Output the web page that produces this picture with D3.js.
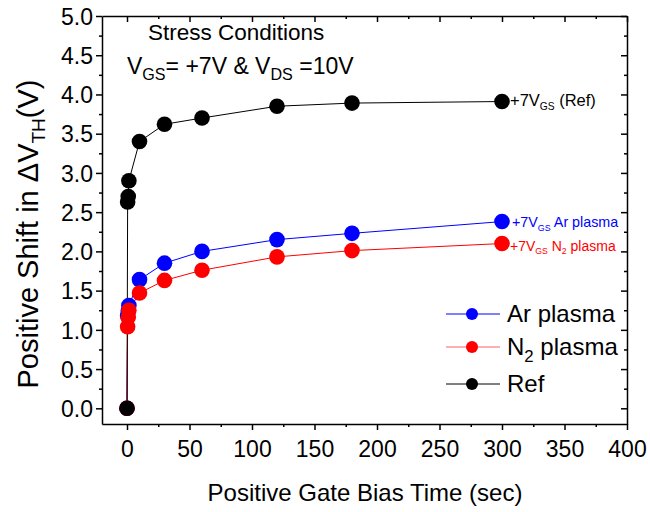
<!DOCTYPE html>
<html>
<head>
<meta charset="utf-8">
<script src="https://cdn.jsdelivr.net/npm/d3@7"></script>
<style>
  body { margin: 0; background: #fff; }
  svg { font-family: "Liberation Sans", Arial, sans-serif; }
</style>
</head>
<body>
<div id="chart"></div>
<script>
// data
const TIME_REF = [0, 0.5, 1, 1.5, 10, 30, 60, 120, 180, 300];
const SHIFT_REF = [0, 2.63, 2.70, 2.90, 3.40, 3.62, 3.70, 3.85, 3.89, 3.91];

const TIME_AR = [0, 0.5, 1, 1.5, 10, 30, 60, 120, 180, 300];
const SHIFT_AR = [0, 1.18, 1.24, 1.31, 1.64, 1.85, 2.00, 2.15, 2.23, 2.38];

const TIME_N2 = [0, 0.5, 1, 1.5, 10, 30, 60, 120, 180, 300];
const SHIFT_N2 = [0, 1.04, 1.16, 1.25, 1.47, 1.63, 1.76, 1.93, 2.01, 2.10];

const X_TICKS = [0, 50, 100, 150, 200, 250, 300, 350, 400];
const Y_TICKS = [0, 0.5, 1.0, 1.5, 2.0, 2.5, 3.0, 3.5, 4.0, 4.5, 5.0];

const W = 650, H = 512;
const PL = 102, PR = 627, PT = 16, PB = 424;

var svg = d3.select("#chart").append("svg")
    .attr("width", W).attr("height", H);

var x = d3.scaleLinear().domain([-20, 400]).range([PL, PR]);
var y = d3.scaleLinear().domain([-0.2, 5.0]).range([PB, PT]);

const minorX = d3.range(-25, 401, 25).filter(v => v >= -20 && v % 50 != 0);
const minorY = d3.range(0.25, 5.0, 0.5);

// axes: outward on left/bottom, inward on top/right
function addAxis(axisFn, scale, tr, ticks, size, labels) {
  var a = axisFn(scale).tickValues(ticks).tickSize(size).tickSizeOuter(0);
  if (labels) a.tickFormat(labels); else a.tickFormat("");
  var g = svg.append("g").attr("transform", tr).call(a);
  g.selectAll("path.domain").attr("stroke", "#000").attr("stroke-width", 1.5);
  g.selectAll(".tick line").attr("stroke", "#000").attr("stroke-width", 1.5);
  g.selectAll("text").attr("fill", "#000").attr("font-size", 23)
    .attr("font-family", "Liberation Sans, Arial, sans-serif");
  if (!labels) g.selectAll("text").remove();
  return g;
}

var gx = addAxis(d3.axisBottom, x, `translate(0,${PB})`, X_TICKS, 6, d3.format("d"));
gx.selectAll("text").attr("dy", "1.05em");
addAxis(d3.axisBottom, x, `translate(0,${PB})`, minorX, 3, null).select(".domain").remove();
addAxis(d3.axisTop, x, `translate(0,${PT})`, X_TICKS, -6, null);
addAxis(d3.axisTop, x, `translate(0,${PT})`, minorX, -3, null).select(".domain").remove();

var gy = addAxis(d3.axisLeft, y, `translate(${PL},0)`, Y_TICKS, 6, d3.format(".1f"));
gy.selectAll("text").attr("dy", "0.36em").attr("x", -9);
addAxis(d3.axisLeft, y, `translate(${PL},0)`, minorY, 3, null).select(".domain").remove();
addAxis(d3.axisRight, y, `translate(${PR},0)`, Y_TICKS, -6, null);
addAxis(d3.axisRight, y, `translate(${PR},0)`, minorY, -3, null).select(".domain").remove();

// series
const SERIES = [
  {name: "Ar", t: TIME_AR, v: SHIFT_AR, color: "#0000ff", line: "#0000ff"},
  {name: "N2", t: TIME_N2, v: SHIFT_N2, color: "#ff0000", line: "#ff0000"},
  {name: "Ref", t: TIME_REF, v: SHIFT_REF, color: "#000000", line: "#000000"}
];

var line = d3.line().x(d => x(d[0])).y(d => y(d[1]));

for (var s of SERIES) {
  var pts = s.t.map((t, i) => [t, s.v[i]]);
  svg.append("path").datum(pts)
    .attr("d", line).attr("fill", "none")
    .attr("stroke", s.line).attr("stroke-width", 1);
}
for (var s of SERIES) {
  var pts = s.t.map((t, i) => [t, s.v[i]]);
  svg.append("g").selectAll("circle").data(pts).enter().append("circle")
    .attr("cx", d => x(d[0])).attr("cy", d => y(d[1]))
    .attr("r", 7.8).attr("fill", s.color);
}

// text with subscripts: parts = [[text, sub?], ...]
function richText(g, px, py, parts, size, color, subScale) {
  var t = g.append("text").attr("x", px).attr("y", py)
    .attr("font-size", size).attr("fill", color);
  var shift = size * 0.28, down = false;
  for (var p of parts) {
    var sp = t.append("tspan").text(p[0]);
    if (p[1]) {
      sp.attr("font-size", size * (subScale || 0.62));
      if (!down) sp.attr("dy", shift);
      down = true;
    } else {
      if (down) sp.attr("dy", -shift);
      down = false;
    }
  }
  return t;
}

// end annotations
var last = TIME_REF.length - 1;
richText(svg, x(TIME_REF[last]) + 8, y(SHIFT_REF[last]) + 4,
  [["+7V"], ["GS", 1], [" (Ref)"]], 16.5, "#000");
richText(svg, x(TIME_AR[last]) + 10, y(SHIFT_AR[last]) + 5,
  [["+7V"], ["GS", 1], [" Ar plasma"]], 14.3, "#0000ff");
richText(svg, x(TIME_N2[last]) + 8, y(SHIFT_N2[last]) + 7,
  [["+7V"], ["GS", 1], [" N"], ["2", 1], [" plasma"]], 14, "#ff0000");

// stress conditions text
svg.append("text").attr("x", 148).attr("y", 40).attr("font-size", 22.5)
  .text("Stress Conditions");
richText(svg, 127, 74, [["V"], ["GS", 1], ["= +7V & V"], ["DS", 1], [" =10V"]], 23, "#000", 0.7);

// legend
const LEGEND = [
  {label: [["Ar plasma"]], color: "#0000ff", line: "#0000ff"},
  {label: [["N"], ["2", 1], [" plasma"]], color: "#ff0000", line: "#ff6060"},
  {label: [["Ref"]], color: "#000000", line: "#000000"}
];
const LEGEND_Y = [314, 347, 384];
LEGEND.forEach(function(d, i) {
  var ly = LEGEND_Y[i];
  svg.append("line").attr("x1", 446).attr("x2", 500).attr("y1", ly).attr("y2", ly)
    .attr("stroke", d.line).attr("stroke-width", 1);
  svg.append("circle").attr("cx", 472).attr("cy", ly).attr("r", 6).attr("fill", d.color);
  richText(svg, 507, ly + 8, d.label, 24, "#000", 0.7);
});

// axis titles
svg.append("text").attr("x", 365).attr("y", 501).attr("text-anchor", "middle")
  .attr("font-size", 24).text("Positive Gate Bias Time (sec)");

var yl = svg.append("text").attr("transform", "translate(38,234) rotate(-90)")
  .attr("text-anchor", "middle").attr("font-size", 29);
yl.append("tspan").text("Positive Shift in \u0394V");
yl.append("tspan").attr("font-size", 19).attr("dy", 7).text("TH");
yl.append("tspan").attr("dy", -7).text("(V)");
</script>
</body>
</html>
